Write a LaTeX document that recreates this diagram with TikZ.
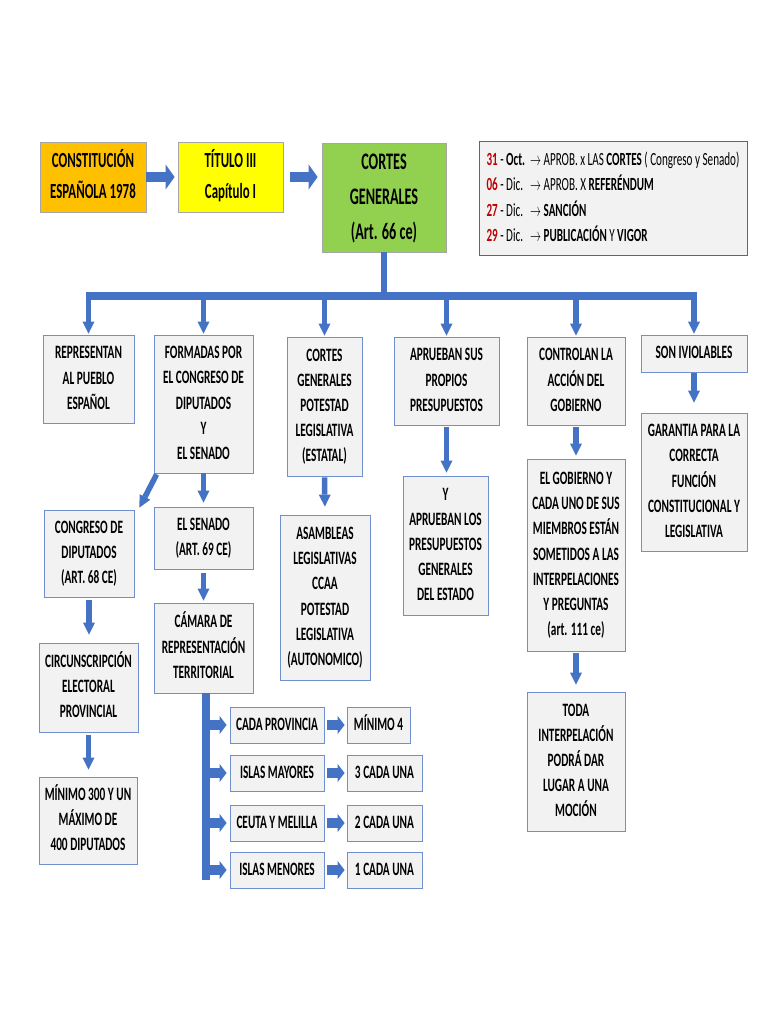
\documentclass[tikz,border=0pt]{standalone}
\usepackage{fontspec}
\setmainfont{Carlito}
\usepackage{graphicx}
\usetikzlibrary{arrows.meta,calc}
\definecolor{arrblue}{HTML}{4472C4}
\definecolor{boxline}{HTML}{6F8FCF}
\definecolor{boxfill}{HTML}{F2F2F2}
\definecolor{corange}{HTML}{FFC000}
\definecolor{cyellow}{HTML}{FFFF00}
\definecolor{cgreen}{HTML}{92D050}
\definecolor{dred}{HTML}{C00000}
\definecolor{redline}{HTML}{E03030}
% vertically stretched text (the reference is stretched about 1.67x vertically)
\newcommand\stx[3]{\scalebox{1}[1.67]{\fontsize{#1}{#2}\selectfont\bfseries\begin{tabular}{@{}c@{}}#3\end{tabular}}}
\newcommand\st[1]{\stx{11.3}{15.1}{#1}}
\newcommand\bx[7]{\node[#6, minimum width={#4pt-#2pt}, minimum height={#5pt-#3pt}] (#1) at ({(#2+#4)/2},{(#3+#5)/2}) {#7};}
\newcommand\rn[1]{{\color{dred}\bfseries #1}}
\tikzset{
  x=1pt, y=-1pt,
  box/.style={draw=boxline, line width=0.8pt, fill=boxfill, inner sep=0pt, rectangle},
  topbox/.style={draw=black!35, line width=0.8pt, inner sep=0pt, rectangle},
  redbox/.style={draw=redline, line width=1pt, fill=boxfill, inner sep=0pt, rectangle},
  fatarrow/.style={arrblue, line width=10pt, -{Triangle[width=25pt,length=9pt,line width=0pt]}},
  dnarrow/.style={arrblue, line width=5.5pt, -{Triangle[width=12pt,length=12pt,line width=0pt]}},
  brarrow/.style={arrblue, line width=10pt, -{Triangle[width=18pt,length=7pt,line width=0pt]}},
  barline/.style={arrblue, line width=8pt},
  stubline/.style={arrblue, line width=6pt},
}
\begin{document}
\begin{tikzpicture}
\useasboundingbox[fill=white] (0,0) rectangle (768,1024);

% top row
\bx{A1}{40}{142}{146}{212}{topbox, fill=corange}{\stx{12.9}{18.2}{CONSTITUCIÓN\\ESPAÑOLA 1978}}
\bx{A2}{178}{142}{283}{212}{topbox, fill=cyellow}{\stx{12.9}{18.2}{TÍTULO III\\Capítulo I}}
\bx{A3}{322}{143}{446}{252}{topbox, fill=cgreen}{\stx{14.2}{21}{CORTES\\GENERALES\\(Art. 66 ce)}}
\bx{R}{479}{142}{747}{255}{redbox}{\scalebox{1}[1.67]{\fontsize{11.1}{15.3}\selectfont
  \begin{tabular}{@{}l@{\hspace{5pt}}l@{}}
  \rn{31} - \textbf{Oct.} & $\rightarrow$ APROB. x LAS \textbf{CORTES} ( Congreso y Senado)\\
  \rn{06} - Dic. & $\rightarrow$ APROB. X \textbf{REFERÉNDUM}\\
  \rn{27} - Dic. & $\rightarrow$ \textbf{SANCIÓN}\\
  \rn{29} - Dic. & $\rightarrow$ \textbf{PUBLICACIÓN} Y \textbf{VIGOR}
  \end{tabular}}}

\draw[fatarrow, shorten >=3pt] (A1.east) -- (A2.west);
\draw[fatarrow, shorten <=7pt, shorten >=4pt] (A2.east) -- (A2.east -| A3.west);

% row 2
\bx{B1}{43}{335}{134}{423}{box}{\st{REPRESENTAN\\AL PUEBLO\\ESPAÑOL}}
\bx{B2}{154}{335}{253}{473}{box}{\st{FORMADAS POR\\EL CONGRESO DE\\DIPUTADOS\\Y\\EL SENADO}}
\bx{B3}{287}{337}{362}{476}{box}{\st{CORTES\\GENERALES\\POTESTAD\\LEGISLATIVA\\(ESTATAL)}}
\bx{B4}{394}{337}{499}{425}{box}{\st{APRUEBAN SUS\\PROPIOS\\PRESUPUESTOS}}
\bx{B5}{527}{337}{625}{425}{box}{\st{CONTROLAN LA\\ACCIÓN DEL\\GOBIERNO}}
\bx{B6}{641}{335}{747}{372}{box}{\st{SON IVIOLABLES}}

% distribution bar
\coordinate (barL) at (86,296);
\coordinate (barR) at (697,296);
\draw[stubline] (A3.south) -- (A3.south |- barL);
\draw[barline] (barL) -- (barR);
\foreach \n in {B1,B2,B3,B4,B5,B6}
  \draw[dnarrow, shorten >=1pt] (\n.north |- barL) -- (\n.north);

% row 3 and below
\bx{C6}{641}{413}{747}{551}{box}{\st{GARANTIA PARA LA\\CORRECTA\\FUNCIÓN\\CONSTITUCIONAL Y\\LEGISLATIVA}}
\bx{C5}{527}{459}{625}{651}{box}{\st{EL GOBIERNO Y\\CADA UNO DE SUS\\MIEMBROS ESTÁN\\SOMETIDOS A LAS\\INTERPELACIONES\\Y PREGUNTAS\\(art. 111 ce)}}
\bx{C4}{403}{476}{488}{615}{box}{\st{Y\\APRUEBAN LOS\\PRESUPUESTOS\\GENERALES\\DEL ESTADO}}
\bx{C3}{280}{515}{370}{680}{box}{\st{ASAMBLEAS\\LEGISLATIVAS\\CCAA\\POTESTAD\\LEGISLATIVA\\(AUTONOMICO)}}
\bx{C2}{154}{507}{253}{569}{box}{\st{EL SENADO\\(ART. 69 CE)}}
\bx{C1}{44}{510}{134}{597}{box}{\st{CONGRESO DE\\DIPUTADOS\\(ART. 68 CE)}}
\bx{D2}{154}{603}{253}{693}{box}{\st{CÁMARA DE\\REPRESENTACIÓN\\TERRITORIAL}}
\bx{D1}{39}{643}{138}{732}{box}{\st{CIRCUNSCRIPCIÓN\\ELECTORAL\\PROVINCIAL}}
\bx{E1}{39}{777}{137}{864}{box}{\st{MÍNIMO 300 Y UN\\MÁXIMO DE\\400 DIPUTADOS}}
\bx{D5}{527}{692}{625}{831}{box}{\st{TODA\\INTERPELACIÓN\\PODRÁ DAR\\LUGAR A UNA\\MOCIÓN}}

\draw[dnarrow, shorten <=1pt, shorten >=10pt] (B6.south) -- (C6.north);
\draw[dnarrow, shorten <=2pt, shorten >=3pt] (B5.south) -- (C5.north);
\draw[dnarrow, shorten <=2pt, shorten >=3pt] (B4.south) -- (B4.south |- C4.north);
\draw[dnarrow, shorten <=1pt, shorten >=8pt] (B3.south) -- (C3.north);
\draw[dnarrow, shorten >=4pt] (B2.south) -- (C2.north);
\draw[dnarrow] ([xshift=3pt,yshift=-1pt]B2.south west) -- ([xshift=5pt,yshift=2pt]C1.north east);
\draw[dnarrow, shorten <=4pt, shorten >=2pt] (C2.south) -- (D2.north);
\draw[dnarrow, shorten <=3pt, shorten >=8pt] (C1.south) -- (C1.south |- D1.north);
\draw[dnarrow, shorten <=3pt, shorten >=7pt] (D1.south) -- (D1.south |- E1.north);
\draw[dnarrow, shorten <=2pt, shorten >=7pt] (C5.south) -- (D5.north);

% senate seats
\bx{F1}{230}{707}{324}{743}{box}{\st{CADA PROVINCIA}}
\bx{F2}{230}{755}{324}{791}{box}{\st{ISLAS MAYORES}}
\bx{F3}{230}{805}{324}{841}{box}{\st{CEUTA Y MELILLA}}
\bx{F4}{230}{852}{324}{888}{box}{\st{ISLAS MENORES}}
\bx{G1}{347}{707}{410}{743}{box}{\st{MÍNIMO 4}}
\bx{G2}{347}{755}{422}{791}{box}{\st{3 CADA UNA}}
\bx{G3}{347}{805}{422}{841}{box}{\st{2 CADA UNA}}
\bx{G4}{347}{852}{422}{888}{box}{\st{1 CADA UNA}}

\coordinate (vbT) at (206,693);
\coordinate (vbB) at (206,880);
\draw[barline] (vbT) -- (vbB);
\foreach \f/\g in {F1/G1,F2/G2,F3/G3,F4/G4}{
  \draw[brarrow, shorten <=4pt, shorten >=3pt] (vbT |- \f.west) -- (\f.west);
  \draw[brarrow, shorten <=3pt, shorten >=2pt] (\f.east) -- (\g.west);
}
\end{tikzpicture}
\end{document}
